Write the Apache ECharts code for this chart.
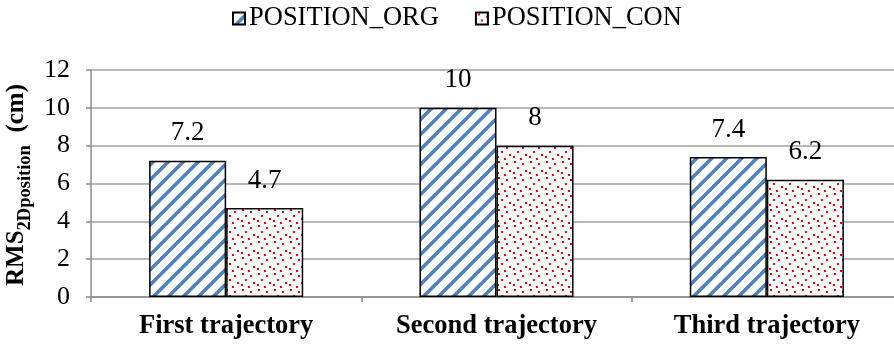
<!DOCTYPE html>
<html>
<head>
<meta charset="utf-8">
<script src="https://cdn.jsdelivr.net/npm/echarts@6/dist/echarts.min.js"></script>
<style>
  html, body { margin: 0; padding: 0; background: #fff; }
  #chart { width: 894px; height: 347px; }
</style>
</head>
<body>
<div id="chart"></div>
<script>
// Chart data
const categories = ['First trajectory', 'Second trajectory', 'Third trajectory'];
const seriesNames = ['POSITION_ORG', 'POSITION_CON'];
const orgValues = [7.2, 10, 7.4];
const conValues = [4.7, 8, 6.2];
const yTicks = [0, 2, 4, 6, 8, 10, 12];
const yTitle = '{a|RMS}{s|2Dposition}{a|  (cm)}';

const SERIF = '"Liberation Serif", "Times New Roman", serif';

// Diagonal blue stripe fill
function stripeTile() {
  const s = 15;
  const c = document.createElement('canvas');
  c.width = s; c.height = s;
  const g = c.getContext('2d');
  g.fillStyle = '#ffffff';
  g.fillRect(0, 0, s, s);
  g.strokeStyle = '#4f81bd';
  g.lineWidth = 3.6;
  for (const off of [-s, 0, s]) {
    g.beginPath();
    g.moveTo(off - 2, s + 2);
    g.lineTo(off + s + 2, -2);
    g.stroke();
  }
  return c;
}

// Red dotted fill
function dotTile() {
  const s = 16;
  const c = document.createElement('canvas');
  c.width = s; c.height = s;
  const g = c.getContext('2d');
  g.fillStyle = '#ffffff';
  g.fillRect(0, 0, s, s);
  g.fillStyle = '#ff0000';
  const dots = [[2, 1], [10, 3], [5, 7], [13, 10], [1, 12], [8, 14]];
  dots.forEach(([x, y]) => g.fillRect(x, y, 2, 2));
  return c;
}

const chart = echarts.init(document.getElementById('chart'), null, { renderer: 'canvas' });

const labelStyle = {
  show: true,
  position: 'top',
  distance: 14,
  fontFamily: SERIF,
  fontSize: 27,
  color: '#000'
};

chart.setOption({
  animation: false,
  backgroundColor: '#ffffff',
  legend: {
    top: 0,
    left: 227,
    itemWidth: 12,
    itemHeight: 12,
    itemGap: 36,
    icon: 'rect',
    textStyle: { fontFamily: SERIF, fontSize: 26.5, color: '#000', padding: [0, 0, 0, -1] },
    data: seriesNames
  },
  // Rotated y-axis title with subscript
  graphic: [{
    type: 'text',
    x: 20,
    y: 185,
    rotation: Math.PI / 2,
    style: {
      text: yTitle,
      align: 'center',
      verticalAlign: 'middle',
      fill: '#000',
      rich: {
        a: { fontFamily: SERIF, fontSize: 25, fontWeight: 'bold', fill: '#000', verticalAlign: 'bottom', padding: [0, 0, 6, 0], lineHeight: 30 },
        s: { fontFamily: SERIF, fontSize: 18.5, fontWeight: 'bold', fill: '#000', verticalAlign: 'bottom', lineHeight: 30 }
      }
    }
  }],
  grid: { left: 91, right: -8, top: 70, bottom: 50, outerBoundsMode: 'none', containLabel: false },
  xAxis: {
    type: 'category',
    data: categories,
    axisLine: { lineStyle: { color: '#8c8c8c', width: 1.5 } },
    axisTick: { show: true, length: 5, lineStyle: { color: '#8c8c8c', width: 1.5 } },
    axisLabel: {
      margin: 16,
      fontFamily: SERIF,
      fontSize: 26.5,
      fontWeight: 'bold',
      color: '#000'
    }
  },
  yAxis: {
    type: 'value',
    min: yTicks[0],
    max: yTicks[yTicks.length - 1],
    interval: 2,
    axisLine: { show: true, lineStyle: { color: '#8c8c8c', width: 1.5 } },
    axisTick: { show: true, length: 5, lineStyle: { color: '#8c8c8c', width: 1.5 } },
    splitLine: { show: true, lineStyle: { color: '#a0a0a0', width: 1.5 } },
    axisLabel: {
      margin: 21,
      fontFamily: SERIF,
      fontSize: 26,
      color: '#000'
    }
  },
  series: [
    {
      name: seriesNames[0],
      type: 'bar',
      data: orgValues,
      barWidth: '28.5%',
      barGap: '0%',
      itemStyle: {
        color: { image: stripeTile(), repeat: 'repeat' },
        borderColor: '#000',
        borderWidth: 1.5
      },
      label: labelStyle
    },
    {
      name: seriesNames[1],
      type: 'bar',
      data: conValues,
      barWidth: '28.5%',
      itemStyle: {
        color: { image: dotTile(), repeat: 'repeat' },
        borderColor: '#000',
        borderWidth: 1.5
      },
      label: labelStyle
    }
  ]
});
</script>
</body>
</html>
